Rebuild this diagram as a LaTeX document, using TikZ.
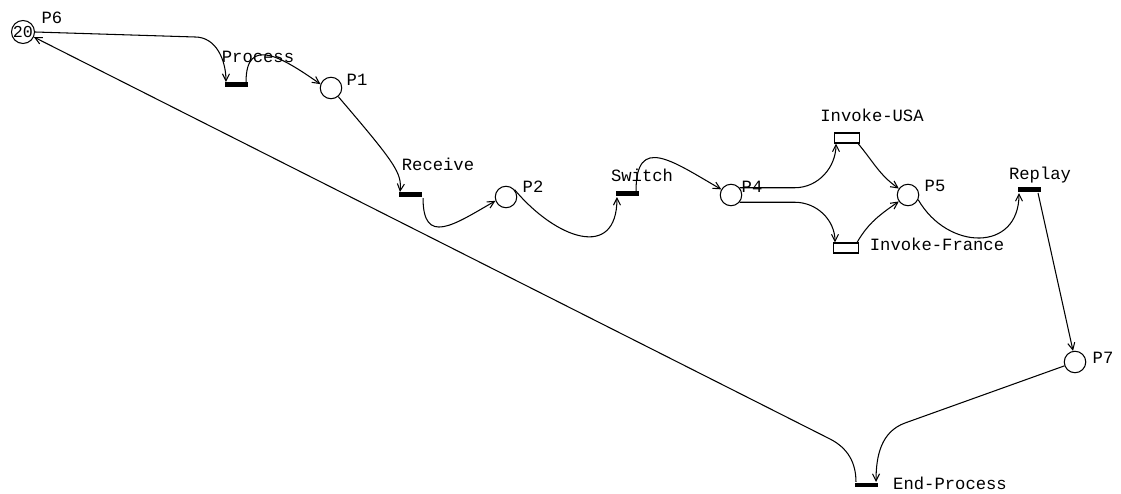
\documentclass[tikz,border=0pt]{standalone}
\usepackage{fontspec}
\setmonofont{Liberation Mono}
\usetikzlibrary{arrows.meta,calc}

\begin{document}
\begin{tikzpicture}[x=0.02cm,y=0.02cm,>={Straight Barb[length=4pt,width=4pt]},line width=0.6pt,
    every node/.style={font=\ttfamily\fontsize{9.8}{11}\selectfont},
    place/.style={circle,draw,inner sep=0pt,minimum size=0.43cm},
    bar/.style={fill=black,inner sep=0pt,minimum width=0.46cm,minimum height=0.1cm},
    box/.style={draw,fill=white,inner sep=0pt,minimum width=0.5cm,minimum height=0.2cm},
    lbl/.style={inner sep=0pt}]
  \useasboundingbox (0,0) rectangle (1121,493);
  % places
  \node[place,font=\ttfamily\fontsize{9.5}{10}\selectfont] (P6) at (23,461) {20};
  \node[place] (P1) at (331,405) {};
  \node[place] (P2) at (506,296) {};
  \node[place] (P4) at (731,298) {};
  \node[place] (P5) at (908,298) {};
  \node[place] (P7) at (1075,131) {};
  % transitions
  \node[bar] (proc) at (236,408) {};
  \node[bar] (recv) at (410,298) {};
  \node[bar] (sw) at (627,299) {};
  \node[box] (usa) at (847,355) {};
  \node[box] (fr) at (846,245) {};
  \node[bar] (rep) at (1029,303) {};
  \node[bar] (endp) at (866,8) {};
  % labels
  \node[lbl] (l-P6) at (52,475) {P6};
  \node[lbl] (l-proc) at (258,436) {Process};
  \node[lbl] (l-P1) at (357,413) {P1};
  \node[lbl] (l-recv) at (438,329) {Receive};
  \node[lbl] (l-P2) at (533,306) {P2};
  \node[lbl] (l-sw) at (642,318) {Switch};
  \node[lbl] (l-usa) at (872,378) {Invoke-USA};
  \node[lbl] (l-fr) at (937,249) {Invoke-France};
  \node[lbl] (l-P5) at (935,307) {P5};
  \node[lbl] (l-rep) at (1040,318) {Replay};
  \node[lbl] (l-P7) at (1103,135) {P7};
  \node[lbl] (l-endp) at (950,10) {End-Process};
  % arcs
  \draw[->] (P6.east) -- (195,456) to[out=0,in=90] ($(proc.north west)+(2,0)$);
  \draw[->] ($(proc.north east)+(-2,0)$) to[out=90,in=145,looseness=1.6] (P1.160);
  \draw[->] (P1.-50) .. controls (395,330) and (402,320) .. ($(recv.north west)+(2,0)$);
  \draw[->] ($(recv.south east)+(1,0)$) to[out=-90,in=210,looseness=1.7] (P2.200);
  \draw[->] (P2.40) to[out=-50,in=-90,looseness=1.6] ($(sw.south west)+(2,0)$);
  \draw[->] ($(sw.north east)+(-3,0)$) to[out=90,in=150,looseness=1.7] (P4.150);
  \draw[->] (P4.40) -- ++(55,0) to[out=0,in=-90] ($(usa.south west)+(2,0)$);
  \draw[->] (P4.-40) -- ++(55,0) to[out=0,in=90] ($(fr.north west)+(2,0)$);
  \draw[->] ($(usa.south east)+(-2,0)$) to[out=-50,in=145] (P5.145);
  \draw[->] ($(fr.north east)+(-2,0)$) to[out=60,in=215] (P5.215);
  \draw[->] (P5.-25) to[out=-60,in=-90,looseness=1.5] ($(rep.south west)+(2,0)$);
  \draw[->] ($(rep.south east)+(-3,0)$) -- (P7.100);
  \draw[->] (P7.200) -- (905,70) to[out=200,in=90] ($(endp.north east)+(-2,0)$);
  \draw[->] ($(endp.north west)+(2,0)$) to[out=90,in=-27] (830,54) -- (P6.-25);
  \node[lbl] (l-P4) at (752,306) {P4};
\end{tikzpicture}
\end{document}
